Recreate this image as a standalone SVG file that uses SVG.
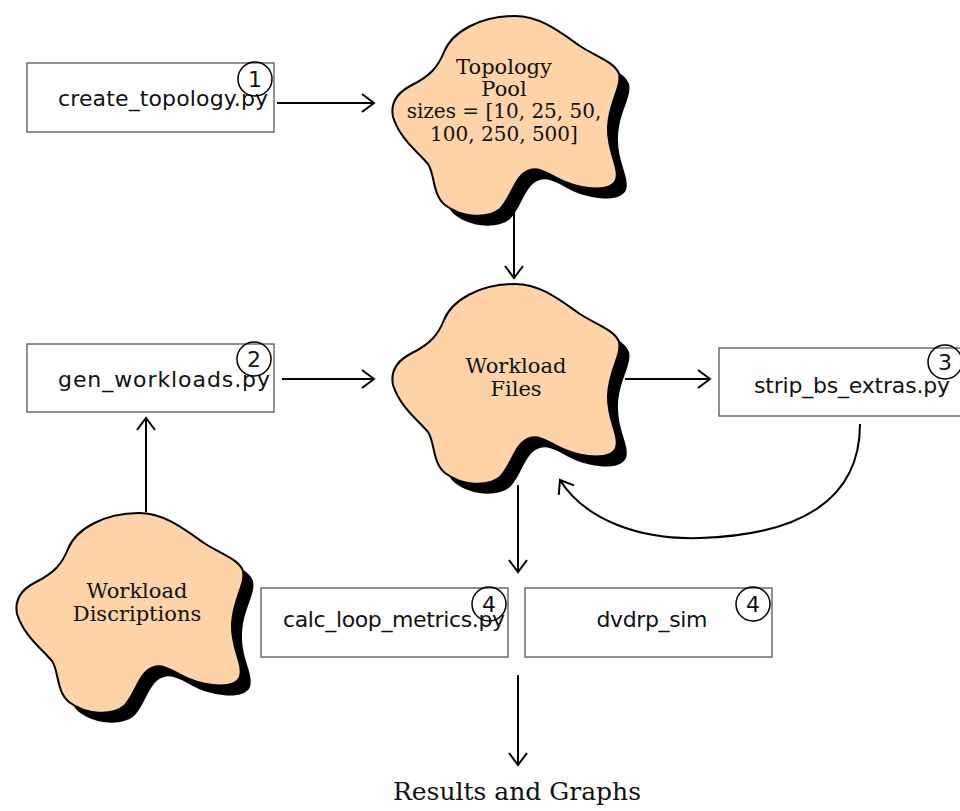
<svg xmlns="http://www.w3.org/2000/svg" xmlns:xlink="http://www.w3.org/1999/xlink" width="960" height="811" viewBox="0 0 960 811">
<style>
.box{fill:#fff;stroke:#555;stroke-width:1.3}
.num{fill:none;stroke:#000;stroke-width:1.5}
.bt{font-family:"DejaVu Sans",sans-serif;font-size:22px;fill:#111;text-anchor:middle}
.nt{font-family:"DejaVu Sans",sans-serif;font-size:22px;fill:#111;text-anchor:middle}
.ct{font-family:"DejaVu Serif",serif;font-size:21px;fill:#111;text-anchor:middle}
.cl{fill:#fdd3a7;stroke:#000;stroke-width:2}
.sh{fill:#000}
.ar{fill:none;stroke:#000;stroke-width:2}
</style>
<defs>
<path id="blob" d="M125,4 C150,4 170,20 190,34 C205,44 225,50 229,62 C232,75 219,90 218,115 C217,140 230,155 226,168 C221,180 195,178 175,170 C160,163 150,155 140,158 C125,162 122,185 110,197 C98,207 72,206 55,193 C42,182 45,162 38,152 C28,140 10,127 3,105 C0,90 8,80 22,73 C40,64 48,55 54,40 C62,20 90,4 125,4 Z"/>
<marker id="arr" markerUnits="userSpaceOnUse" markerWidth="20" markerHeight="22" viewBox="-14 -11 16 22" refX="0" refY="0" orient="auto">
<path d="M-12,-9 L0,0 L-12,9" fill="none" stroke="#000" stroke-width="2"/>
</marker>
</defs>

<g id="connectors">
<line class="ar" x1="277" y1="103" x2="374" y2="103" marker-end="url(#arr)"/>
<line class="ar" x1="514" y1="212" x2="514" y2="278" marker-end="url(#arr)"/>
<line class="ar" x1="282" y1="379" x2="374" y2="379" marker-end="url(#arr)"/>
<line class="ar" x1="625" y1="379" x2="710" y2="379" marker-end="url(#arr)"/>
<line class="ar" x1="146" y1="512" x2="146" y2="418" marker-end="url(#arr)"/>
<path class="ar" d="M860,424 C860,500 800,535 700,538 C640,540 585,520 560,480" marker-end="url(#arr)"/>
<line class="ar" x1="518" y1="485" x2="518" y2="572" marker-end="url(#arr)"/>
<line class="ar" x1="518" y1="675" x2="518" y2="765" marker-end="url(#arr)"/>
</g>

<g id="topology-pool">
<use xlink:href="#blob" class="sh" transform="translate(400,22)"/>
<use xlink:href="#blob" class="cl" transform="translate(390,12)"/>
<text class="ct" x="504" y="74">Topology</text>
<text class="ct" x="504" y="96">Pool</text>
<text class="ct" x="504" y="118" style="font-size:20px">sizes = [10, 25, 50,</text>
<text class="ct" x="504" y="141" style="font-size:20px">100, 250, 500]</text>
</g>

<g id="workload-files">
<use xlink:href="#blob" class="sh" transform="translate(400,290)"/>
<use xlink:href="#blob" class="cl" transform="translate(390,280)"/>
<text class="ct" x="516" y="373">Workload</text>
<text class="ct" x="516" y="396">Files</text>
</g>

<g id="workload-discriptions">
<use xlink:href="#blob" class="sh" transform="translate(24,519)"/>
<use xlink:href="#blob" class="cl" transform="translate(14,509)"/>
<text class="ct" x="137" y="598">Workload</text>
<text class="ct" x="137" y="621">Discriptions</text>
</g>

<g id="create-topology">
<rect class="box" x="27" y="63" width="247" height="69"/>
<text class="bt" x="163" y="106" textLength="210">create_topology.py</text>
<circle class="num" cx="255" cy="79" r="17"/>
<text class="nt" x="255" y="87">1</text>
</g>

<g id="gen-workloads">
<rect class="box" x="27" y="344" width="247" height="68"/>
<text class="bt" x="164" y="387" textLength="212">gen_workloads.py</text>
<circle class="num" cx="254" cy="359" r="17"/>
<text class="nt" x="254" y="367">2</text>
</g>

<g id="strip-bs-extras">
<rect class="box" x="719" y="348" width="250" height="68"/>
<text class="bt" x="852" y="393" textLength="196">strip_bs_extras.py</text>
<circle class="num" cx="945" cy="362" r="17"/>
<text class="nt" x="945" y="370">3</text>
</g>

<g id="calc-loop-metrics">
<rect class="box" x="261" y="588" width="247" height="69"/>
<text class="bt" x="394" y="627" textLength="222">calc_loop_metrics.py</text>
<circle class="num" cx="489" cy="604" r="17"/>
<text class="nt" x="489" y="612">4</text>
</g>

<g id="dvdrp-sim">
<rect class="box" x="525" y="588" width="247" height="69"/>
<text class="bt" x="652" y="627" textLength="111">dvdrp_sim</text>
<circle class="num" cx="753" cy="604" r="17"/>
<text class="nt" x="753" y="612">4</text>
</g>

<g id="results">
<text class="ct" x="517" y="800" style="font-size:25px">Results and Graphs</text>
</g>
</svg>
